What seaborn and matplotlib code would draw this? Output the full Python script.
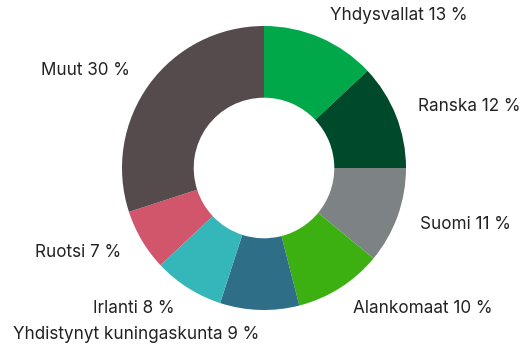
import matplotlib
matplotlib.use("Agg")
import matplotlib.pyplot as plt
import seaborn as sns

# Export destinations and their shares (%)
countries = ["Yhdysvallat", "Ranska", "Suomi", "Alankomaat",
             "Yhdistynyt kuningaskunta", "Irlanti", "Ruotsi", "Muut"]
shares = [13, 12, 11, 10, 9, 8, 7, 30]
colors = ["#00a84a", "#004a2c", "#7d8284", "#3cb010",
          "#2e6e87", "#35b7ba", "#d1566c", "#564b4c"]

sns.set_theme(style="white")
plt.rcParams["font.family"] = ["Inter", "DejaVu Sans"]

W, H, DPI = 526, 352, 100
fig = plt.figure(figsize=(W / DPI, H / DPI), dpi=DPI)
ax = fig.add_axes([0, 0, 1, 1])

labels = [f"{c} {v} %" for c, v in zip(countries, shares)]
wedges, texts = ax.pie(
    shares, colors=colors, labels=labels, startangle=90, counterclock=False,
    radius=1.0, labeldistance=1.17,
    wedgeprops=dict(width=0.505, linewidth=0),
    textprops=dict(fontsize=12.3, color="#222222"),
)

cx, cy, R = 264, 168, 142  # centre and outer radius in pixels
ax.set_aspect("auto")
ax.set_xlim(-cx / R, (W - cx) / R)
ax.set_ylim(-(H - cy) / R, cy / R)
ax.axis("off")

fig.savefig("out.png", dpi=DPI, facecolor="white")
